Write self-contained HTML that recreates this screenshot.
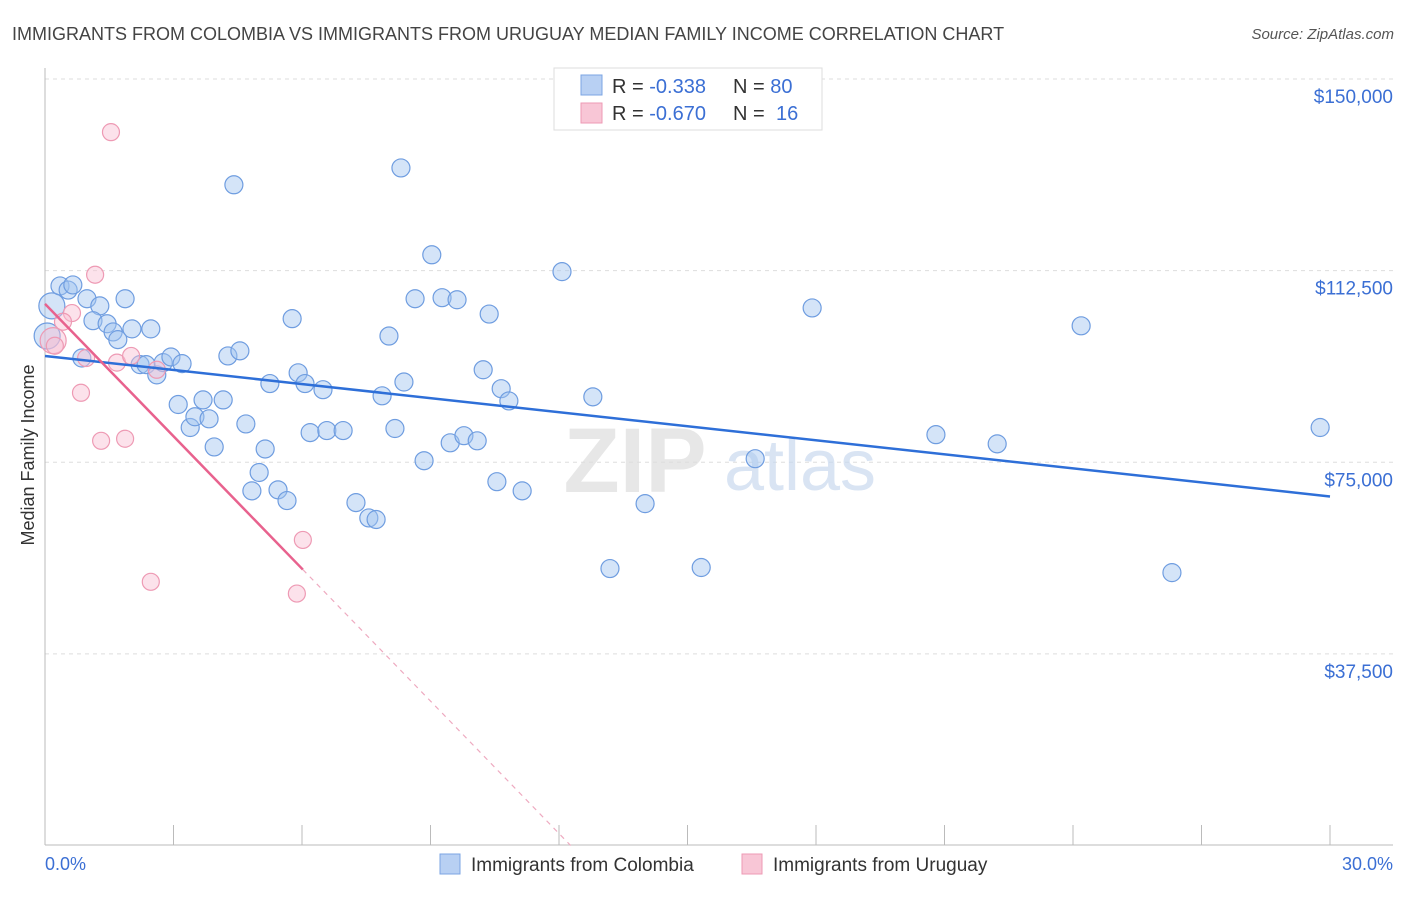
<!DOCTYPE html>
<html><head><meta charset="utf-8"><style>
body{margin:0;background:#fff;font-family:"Liberation Sans",sans-serif;}
svg text{font-family:"Liberation Sans",sans-serif;}
</style></head><body>
<svg id="chart" width="1406" height="892" viewBox="0 0 1406 892">
<text x="12" y="40" font-size="18" fill="#444">IMMIGRANTS FROM COLOMBIA VS IMMIGRANTS FROM URUGUAY MEDIAN FAMILY INCOME CORRELATION CHART</text>
<text x="1394" y="39" font-size="15" fill="#555" text-anchor="end" font-style="italic">Source: ZipAtlas.com</text>
<g id="grid"></g>
<g>
<text x="635" y="492" font-size="92" fill="#ddd" text-anchor="middle" font-family="Liberation Serif" font-weight="bold" opacity="0.7">ZIP</text>
<text x="800" y="490" font-size="72" fill="#c9d9ef" text-anchor="middle" opacity="0.7">atlas</text>
</g>
<line x1="45" y1="68" x2="45" y2="845" stroke="#bbb"/>
<line x1="45" y1="845" x2="1393" y2="845" stroke="#bbb"/>
<g id="xticks"></g>
<g id="ylabels"></g>
<text x="45" y="870" font-size="18" fill="#3b6fd4">0.0%</text>
<text x="1393" y="870" font-size="18" fill="#3b6fd4" text-anchor="end">30.0%</text>
<text transform="translate(34,455) rotate(-90)" font-size="18" fill="#333" text-anchor="middle">Median Family Income</text>
<g id="points"></g>
<g id="lines"></g>
<g>
<rect x="554" y="68" width="268" height="62" fill="#fff" stroke="#ddd"/>
<rect x="581" y="75" width="21" height="20" fill="#b8d0f3" stroke="#7ba4e3"/>
<rect x="581" y="103" width="21" height="20" fill="#f8c6d6" stroke="#ee9ab4"/>
<text x="612" y="93" font-size="20" fill="#333">R = <tspan fill="#3b6fd4">-0.338</tspan><tspan x="733">N = </tspan><tspan fill="#3b6fd4">80</tspan></text>
<text x="612" y="120" font-size="20" fill="#333">R = <tspan fill="#3b6fd4">-0.670</tspan><tspan x="733">N = </tspan><tspan fill="#3b6fd4" x="776">16</tspan></text>
</g>
<g>
<rect x="440" y="854" width="20" height="20" fill="#b8d0f3" stroke="#7ba4e3"/>
<text x="471" y="871" font-size="19" fill="#333">Immigrants from Colombia</text>
<rect x="742" y="854" width="20" height="20" fill="#f8c6d6" stroke="#ee9ab4"/>
<text x="773" y="871" font-size="19" fill="#333">Immigrants from Uruguay</text>
</g>
</svg>
<script>
const yTicks=[37500,75000,112500,150000];
const yTickLabels=["$37,500","$75,000","$112,500","$150,000"];
const xTicks=[0,3,6,9,12,15,18,21,24,27,30];
const colombiaX=[0.05,0.16,0.35,0.54,0.65,0.98,1.28,1.87,1.12,1.45,1.59,1.70,2.03,2.47,0.86,2.22,2.36,2.61,2.76,2.94,3.20,3.11,3.39,3.50,3.69,3.83,3.95,4.16,4.27,4.55,4.41,4.69,4.83,5.00,5.14,5.44,5.65,5.77,5.91,5.25,6.07,6.19,6.49,6.58,6.96,7.26,7.56,7.73,7.87,8.03,8.17,8.38,8.31,8.64,8.85,9.03,9.27,9.62,9.46,9.78,10.09,10.23,10.37,10.55,10.65,10.83,11.14,12.07,12.79,13.19,14.01,15.32,16.58,17.91,20.80,22.23,24.19,26.31,29.77];
const colombiaY=[99.7,105.6,109.5,108.7,109.7,107.0,105.6,107.0,102.7,102.1,100.5,99.0,101.1,101.1,95.4,94.1,94.1,92.1,94.5,95.6,94.3,86.3,81.8,83.9,87.2,83.5,78.0,87.2,95.8,96.8,129.3,82.5,69.4,73.0,77.6,69.6,67.5,103.1,92.5,90.4,90.4,80.8,89.2,81.2,81.2,67.1,64.1,63.8,88.0,99.7,81.6,90.7,132.6,107.0,75.3,115.6,107.2,106.8,78.8,80.2,79.2,93.1,104.0,71.2,89.4,87.0,69.4,112.3,87.8,54.2,66.9,54.4,75.7,105.2,80.4,78.6,101.7,53.4,81.8];
const uruguayX=[1.54,1.17,0.63,0.42,0.19,0.23,0.96,1.68,2.01,2.61,0.84,1.31,1.87,6.02,5.88,2.47];
const uruguayY=[139.6,111.7,104.2,102.5,98.8,97.8,95.4,94.5,95.8,93.1,88.6,79.2,79.6,59.8,49.3,51.6];
const colombiaTrend=[95.8,68.3]; // value at 0% and 30%
const uruguayTrend=[106.0,54.0,6.02]; // value at 0%, at end x, end x
const NS="http://www.w3.org/2000/svg";
const X=v=>45+v/30*1285;
const Y=v=>845.5-v/150000*766.5;
const YK=k=>Y(k*1000);
function mk(t,a,p){const e=document.createElementNS(NS,t);for(const k in a)e.setAttribute(k,a[k]);p.appendChild(e);return e;}
const grid=document.getElementById('grid');
yTicks.forEach((t,i)=>{
 const l=mk('line',{x1:45,x2:1393,y1:Y(t),y2:Y(t),stroke:'#ddd','stroke-dasharray':'4,4'},grid);
 
 
 const tx=mk('text',{x:1393,y:Y(t)+24,'font-size':19,fill:'#3b6fd4','text-anchor':'end'},document.getElementById('ylabels'));
 tx.textContent=yTickLabels[i];
 
 
});
xTicks.forEach(t=>{
 const l=mk('line',{x1:X(t),x2:X(t),y1:825,y2:845,stroke:'#bbb'},document.getElementById('xticks'));
 
 
});
const pts=document.getElementById('points');


colombiaX.forEach((x,i)=>{
 const r=(i<2)?13:9;
 const c=mk('circle',{cx:X(x),cy:YK(colombiaY[i]),r:r,fill:'rgba(160,195,240,0.45)',stroke:'#6f9de0','stroke-width':1.2},pts);
 
 
});
uruguayX.forEach((x,i)=>{
 const r=(i===4)?13:8.5;
 const c=mk('circle',{cx:X(x),cy:YK(uruguayY[i]),r:r,fill:'rgba(248,190,210,0.45)',stroke:'#ee9ab4','stroke-width':1.2},pts);
 
 
});
const lines=document.getElementById('lines');
const bl=mk('line',{x1:X(0),y1:YK(colombiaTrend[0]),x2:X(30),y2:YK(colombiaTrend[1]),stroke:'#2e6fd8','stroke-width':2.5},lines);


const slope=(uruguayTrend[1]-uruguayTrend[0])/uruguayTrend[2];
const pl=mk('line',{x1:X(0),y1:YK(uruguayTrend[0]),x2:X(uruguayTrend[2]),y2:YK(uruguayTrend[1]),stroke:'#e8628e','stroke-width':2.5},lines);


const xz=-uruguayTrend[0]/slope;
const pd=mk('line',{x1:X(uruguayTrend[2]),y1:YK(uruguayTrend[1]),x2:X(xz),y2:YK(0),stroke:'#eeaac0','stroke-width':1.2,'stroke-dasharray':'5,5'},lines);


</script>
</body></html>
